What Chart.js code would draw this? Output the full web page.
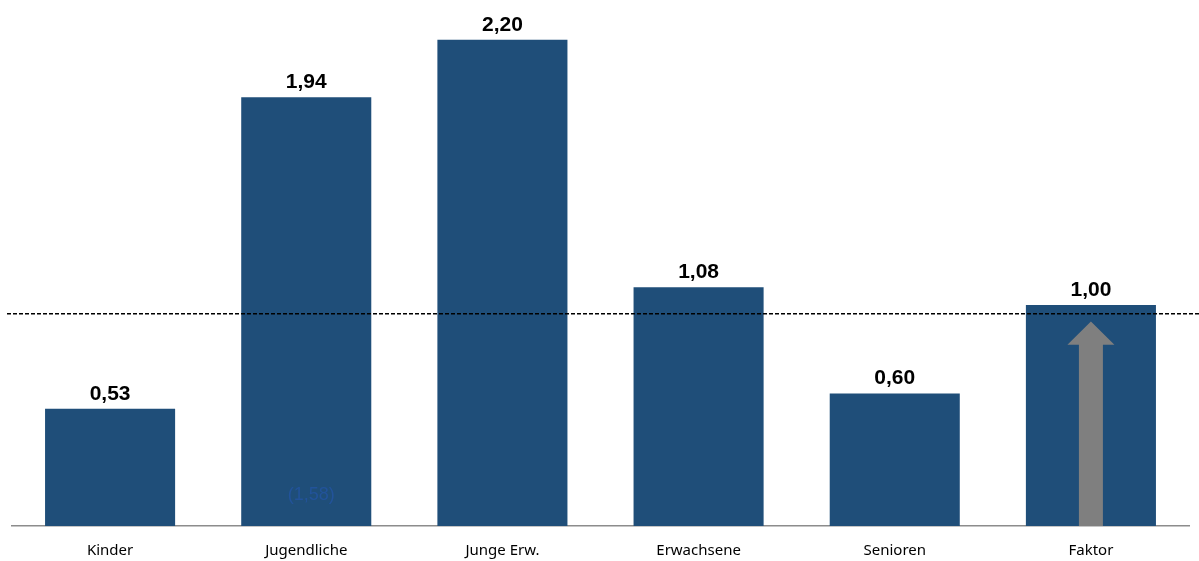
<!DOCTYPE html>
<html>
<head>
<meta charset="utf-8">
<script src="https://cdn.jsdelivr.net/npm/chart.js@4.4.1/dist/chart.umd.min.js"></script>
<style>
    html, body { margin: 0; padding: 0; background: #fff; overflow: hidden; }
    #wrap { width: 1199px; height: 568px; }
</style>
</head>
<body>
<div id="wrap"><canvas id="chart"></canvas></div>
<script>
const categories = ['Kinder', 'Jugendliche', 'Junge Erw.', 'Erwachsene', 'Senioren', 'Faktor'];
const values = [0.53, 1.94, 2.20, 1.08, 0.60, 1.00];
const referenceLine = 0.96;
const arrowTop = 0.925;
const arrowHeadBase = 0.82;
const noteText = '(1,58)';
const noteValue = 0.14;

const fmt = v => v.toLocaleString('de-DE', { minimumFractionDigits: 2, maximumFractionDigits: 2 });

// value labels above each bar, note in bar 2, gray arrow in last bar
const overlayPlugin = {
    id: 'overlay',
    afterDatasetsDraw(chart) {
        const { ctx, scales: { x, y } } = chart;
        const meta = chart.getDatasetMeta(0);

        // arrow in Faktor bar
        const bar = meta.data[5];
        const cx = bar.x;
        const y0 = y.getPixelForValue(0);
        const yTip = y.getPixelForValue(arrowTop);
        const yHead = y.getPixelForValue(arrowHeadBase);
        ctx.save();
        ctx.fillStyle = '#7f7f7f';
        ctx.beginPath();
        ctx.moveTo(cx - 12, y0);
        ctx.lineTo(cx - 12, yHead);
        ctx.lineTo(cx - 23.5, yHead);
        ctx.lineTo(cx, yTip);
        ctx.lineTo(cx + 23.5, yHead);
        ctx.lineTo(cx + 12, yHead);
        ctx.lineTo(cx + 12, y0);
        ctx.closePath();
        ctx.fill();

        // dashed reference line
        const yRef = y.getPixelForValue(referenceLine);
        ctx.strokeStyle = '#000';
        ctx.lineWidth = 1.5;
        ctx.setLineDash([4, 2]);
        ctx.beginPath();
        ctx.moveTo(7, yRef);
        ctx.lineTo(chart.width, yRef);
        ctx.stroke();
        ctx.setLineDash([]);

        // value labels
        ctx.fillStyle = '#000';
        ctx.font = 'bold 21px "Liberation Sans", Arial, sans-serif';
        ctx.textAlign = 'center';
        ctx.textBaseline = 'alphabetic';
        meta.data.forEach((el, i) => {
            ctx.fillText(fmt(values[i]), el.x, el.y - 9);
        });

        // note inside Jugendliche bar
        ctx.fillStyle = '#22539a';
        ctx.font = '18px "Liberation Sans", Arial, sans-serif';
        ctx.textBaseline = 'middle';
        ctx.fillText(noteText, meta.data[1].x + 5, y.getPixelForValue(noteValue));
        ctx.restore();
    }
};

new Chart(document.getElementById('chart'), {
    type: 'bar',
    data: {
        labels: categories,
        datasets: [{
            data: values,
            backgroundColor: '#1f4e79',
            borderWidth: 0,
            categoryPercentage: 1,
            barPercentage: 0.663
        }]
    },
    options: {
        responsive: true,
        maintainAspectRatio: false,
        animation: false,
        layout: { padding: { left: 12, right: 10, top: 0, bottom: 0 } },
        scales: {
            y: {
                display: false,
                min: 0,
                max: 2.38
            },
            x: {
                grid: { display: false },
                border: { display: true, color: '#8c8c8c', width: 1.5 },
                ticks: {
                    color: '#000',
                    padding: 8,
                    font: { family: '"Noto Sans", "Liberation Sans", sans-serif', size: 15 }
                }
            }
        },
        plugins: {
            legend: { display: false },
            tooltip: { enabled: false }
        }
    },
    plugins: [overlayPlugin]
});
</script>
</body>
</html>
